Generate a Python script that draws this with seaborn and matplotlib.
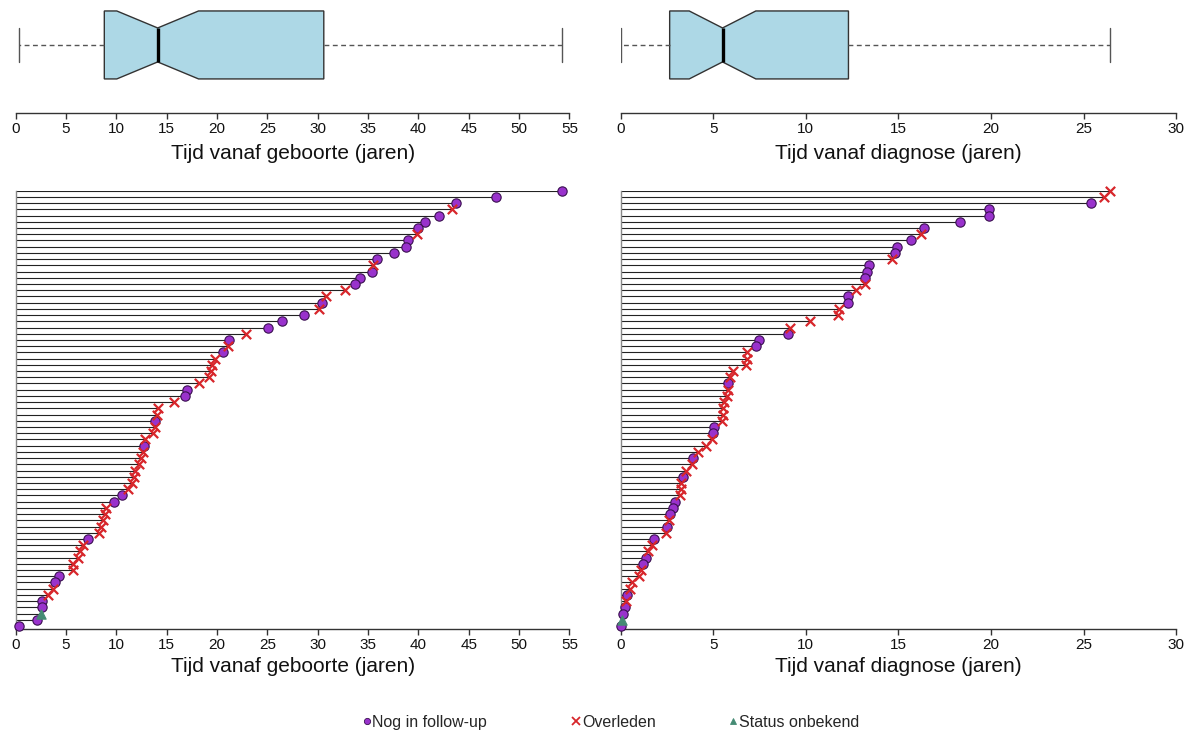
import numpy as np
import pandas as pd
import seaborn as sns
import matplotlib.pyplot as plt
from matplotlib.lines import Line2D

# Tijd vanaf geboorte (jaren), van boven naar beneden
geboorte_tijd = [54.3, 47.7, 43.7, 43.3, 42.0, 40.7, 40.0, 39.9, 39.0, 38.8,
                 37.6, 35.9, 35.5, 35.4, 34.2, 33.7, 32.7, 30.8, 30.4, 30.1,
                 28.6, 26.4, 25.1, 22.9, 21.2, 21.05, 20.55, 19.8, 19.5, 19.4,
                 19.2, 18.2, 17.0, 16.8, 15.75, 14.1, 14.0, 13.8, 13.8, 13.6,
                 12.8, 12.7, 12.6, 12.4, 12.2, 11.8, 11.7, 11.6, 11.2, 10.6,
                 9.76, 8.97, 8.9, 8.7, 8.5, 8.24, 7.18, 6.65, 6.39, 6.22,
                 5.72, 5.72, 4.33, 3.9, 3.74, 3.17, 2.6, 2.6, 2.55, 2.15, 0.36]
geboorte_status = list("FFFOFFFOFF" "FFOFFFOOFO" "FFFOFOFOOO" "OOFFOOOFOO"
                       "OFOOOOOOOF" "FOOOOOFOOO" "OOFFOOFFSFF")

# Tijd vanaf diagnose (jaren), van boven naar beneden
diagnose_tijd = [26.4, 26.1, 25.4, 19.9, 19.9, 18.3, 16.4, 16.2, 15.7, 14.9,
                 14.8, 14.65, 13.4, 13.3, 13.2, 13.2, 12.7, 12.3, 12.3, 11.8,
                 11.75, 10.2, 9.14, 9.03, 7.47, 7.3, 6.84, 6.8, 6.75, 6.05,
                 5.9, 5.8, 5.78, 5.76, 5.58, 5.5, 5.5, 5.49, 5.02, 4.98,
                 4.91, 4.59, 4.19, 3.89, 3.83, 3.51, 3.38, 3.26, 3.24, 3.2,
                 2.93, 2.81, 2.66, 2.63, 2.52, 2.45, 1.78, 1.71, 1.49, 1.37,
                 1.19, 1.08, 1.0, 0.59, 0.5, 0.36, 0.29, 0.23, 0.11, 0.05, 0.0]
diagnose_status = list("OOFFFFFOFF" "FOFFFOOFFO" "OOOFFFOOOO" "OFOOOOOOFF"
                       "OOOFOOFOOO" "FFFOFOFOOF" "FOOOOFOFFSF")

status_namen = {"F": "Nog in follow-up", "O": "Overleden", "S": "Status onbekend"}
status_markers = {"F": "o", "O": "x", "S": "^"}
status_kleuren = {"F": "#9932CC", "O": "#D7262B", "S": "#458B74"}

geboorte_ticks = np.arange(0, 56, 5)
diagnose_ticks = np.arange(0, 31, 5)
xlabel_geboorte = "Tijd vanaf geboorte (jaren)"
xlabel_diagnose = "Tijd vanaf diagnose (jaren)"

sns.set_theme(style="white")
plt.rcParams["font.family"] = ["Liberation Sans", "DejaVu Sans"]

fig = plt.figure(figsize=(11.95, 7.35), dpi=100)

panels = [
    (geboorte_tijd, geboorte_status, geboorte_ticks, xlabel_geboorte, 0.01314, 0.4634),
    (diagnose_tijd, diagnose_status, diagnose_ticks, xlabel_diagnose, 0.5194, 0.4649),
]


def style_xaxis(ax, ticks, label, labelpad):
    ax.set_xlim(ticks[0], ticks[-1])
    ax.set_xticks(ticks)
    ax.tick_params(axis="x", direction="out", length=4, width=1, color="#333333",
                   pad=2.5, labelsize=11, labelcolor="#111111", bottom=True)
    ax.set_xlabel(label, fontsize=15, labelpad=labelpad, color="#111111")
    ax.spines["bottom"].set_color("#333333")
    ax.spines["bottom"].set_linewidth(1)


for tijd, status, ticks, label, x0, w in panels:
    # boxplot bovenaan
    ax_box = fig.add_axes([x0, 0.8459, w, 0.1541])
    sns.boxplot(x=tijd, ax=ax_box, notch=True, width=0.8, color="#ADD8E6",
                saturation=1, linecolor="#333333", linewidth=1, showfliers=False,
                whiskerprops=dict(linestyle=(0, (3.5, 2.5)), color="#555555"),
                capprops=dict(color="#555555"),
                medianprops=dict(color="black", linewidth=2.4))
    ax_box.set_ylim(0.804, -0.529)
    ax_box.set_yticks([])
    for side in ["top", "right", "left"]:
        ax_box.spines[side].set_visible(False)
    style_xaxis(ax_box, ticks, label, 5.5)

    # lijnen met eindpunten onderaan
    ax = fig.add_axes([x0, 0.1438, w, 0.5967])
    n = len(tijd)
    df = pd.DataFrame({"tijd": tijd, "status": status, "pos": np.arange(n)[::-1]})
    ax.hlines(df["pos"], 0, df["tijd"], color="#222222", lw=0.8, zorder=2)
    for code in ["F", "O", "S"]:
        sub = df[df["status"] == code]
        if code == "O":
            sns.scatterplot(data=sub, x="tijd", y="pos", ax=ax, marker="x",
                            color=status_kleuren[code], s=45, linewidth=1.6,
                            zorder=3, clip_on=False, legend=False)
        else:
            sns.scatterplot(data=sub, x="tijd", y="pos", ax=ax,
                            marker=status_markers[code], color=status_kleuren[code],
                            edgecolor="#3a1050" if code == "F" else status_kleuren[code],
                            s=45, linewidth=0.8, zorder=3, clip_on=False, legend=False)
    ax.set_ylim(-0.53, n - 1)
    ax.set_yticks([])
    ax.set_ylabel("")
    for side in ["top", "right"]:
        ax.spines[side].set_visible(False)
    ax.spines["left"].set_color("#888888")
    ax.spines["left"].set_linewidth(1)
    style_xaxis(ax, ticks, label, 3)

# legenda onderaan
legend_x = [366.7 / 1195, 576 / 1195, 733.3 / 1195]
for code, lx in zip(["F", "O", "S"], legend_x):
    if code == "O":
        h = Line2D([], [], ls="none", marker="x", color=status_kleuren[code],
                   markersize=5.5, markeredgewidth=1.3)
    else:
        h = Line2D([], [], ls="none", marker=status_markers[code],
                   markerfacecolor=status_kleuren[code],
                   markeredgecolor="#3a1050" if code == "F" else status_kleuren[code],
                   markersize=4.5, markeredgewidth=0.6)
    fig.legend(handles=[h], labels=[status_namen[code]], loc="center left",
               bbox_to_anchor=(lx - 4.6 / 1195, 1 - 722.5 / 735), frameon=False,
               fontsize=11.5, handlelength=0.6, handletextpad=0.05,
               borderpad=0, borderaxespad=0)

fig.savefig("out.png", dpi=100)
